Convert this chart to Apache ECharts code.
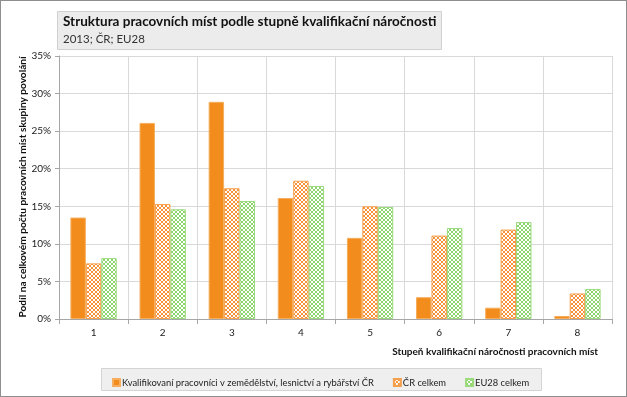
<!DOCTYPE html>
<html>
<head>
<meta charset="utf-8">
<script src="https://cdn.jsdelivr.net/npm/echarts@6/dist/echarts.min.js"></script>
<style>
  html, body { margin: 0; padding: 0; background: #fff; }
  #main { width: 627px; height: 397px; box-sizing: border-box; border: 1px solid #8e8e8e; }
</style>
</head>
<body>
<div id="main"></div>
<script>
// data
var categories = ['1', '2', '3', '4', '5', '6', '7', '8'];
var agriValues = [13.5, 26.1, 28.9, 16.1, 10.8, 2.9, 1.5, 0.4];
var czValues   = [7.4, 15.3, 17.4, 18.4, 15.0, 11.1, 11.9, 3.4];
var euValues   = [8.1, 14.6, 15.7, 17.7, 14.9, 12.1, 12.9, 4.0];
var seriesNames = ['Kvalifikovaní pracovníci v zemědělství, lesnictví a rybářství ČR', 'ČR celkem', 'EU28 celkem'];
var yTitle = 'Podíl na celkovém počtu pracovních míst skupiny povolání';

var FONT = 'Lato, "Open Sans", sans-serif';

// small checker pattern like the excel fill
function checker(color) {
  var c = document.createElement('canvas');
  c.width = 4; c.height = 4;
  var ctx = c.getContext('2d');
  ctx.fillStyle = '#ffffff';
  ctx.fillRect(0, 0, 4, 4);
  ctx.fillStyle = color;
  ctx.fillRect(0, 0, 2, 2);
  ctx.fillRect(2, 2, 2, 2);
  return c;
}

// font size so that text gets the wanted length (reference uses a narrow font)
function fitSize(text, weight, want) {
  var ctx = document.createElement('canvas').getContext('2d');
  ctx.font = weight + ' 10px ' + FONT;
  return 10 * want / ctx.measureText(text).width;
}
var yTitleSize = fitSize(yTitle, 'bold', 262);
var legendSize = fitSize(seriesNames[0], 'normal', 252);

var myChart = echarts.init(document.getElementById('main'));

var option = {
  animation: false,
  textStyle: { fontFamily: FONT },
  graphic: [
    {
      type: 'rect', left: 56, top: 10,
      shape: { width: 384, height: 38 },
      style: { fill: '#ececec', stroke: '#d0d0d0', lineWidth: 1 }
    },
    {
      type: 'text', left: 62, top: 14,
      style: { text: 'Struktura pracovních míst podle stupně kvalifikační náročnosti', font: 'bold 13.5px ' + FONT, fill: '#111' }
    },
    {
      type: 'text', left: 62, top: 32,
      style: { text: '2013; ČR; EU28', font: '11.5px ' + FONT, fill: '#333' }
    },
    {
      type: 'text', right: 28, top: 346,
      style: { text: 'Stupeň kvalifikační náročnosti pracovních míst', font: 'bold 10px ' + FONT, fill: '#111' }
    },
    {
      // rotated y axis title, one line
      type: 'text', x: 22, y: 186, rotation: Math.PI / 2,
      style: { text: yTitle, font: 'bold ' + yTitleSize.toFixed(2) + 'px ' + FONT, fill: '#111', align: 'center', verticalAlign: 'middle' }
    },
    {
      type: 'rect', left: 100, top: 367,
      shape: { width: 440, height: 22 },
      style: { fill: '#efefef', stroke: '#d4d4d4', lineWidth: 1 }
    }
  ],
  legend: {
    data: seriesNames,
    left: 106, top: 372,
    itemWidth: 7, itemHeight: 7,
    itemGap: 19,
    icon: 'rect',
    textStyle: { fontSize: legendSize, color: '#222', fontFamily: FONT, padding: [0, 0, 0, -3] }
  },
  grid: { left: 58, right: 14, top: 55, bottom: 77 },
  xAxis: {
    type: 'category',
    data: categories,
    axisLine: { lineStyle: { color: '#a6a6a6' } },
    axisTick: { show: true, length: 5, lineStyle: { color: '#a6a6a6' } },
    axisLabel: { color: '#222', fontSize: 10, margin: 9 },
    splitLine: { show: true, lineStyle: { color: '#d9d9d9' } }
  },
  yAxis: {
    type: 'value',
    min: 0, max: 35, interval: 5,
    axisLine: { show: true, lineStyle: { color: '#a6a6a6' } },
    axisTick: { show: true, length: 4, lineStyle: { color: '#a6a6a6' } },
    axisLabel: { formatter: '{value}%', color: '#222', fontSize: 10, margin: 8 },
    splitLine: { lineStyle: { color: '#d9d9d9' } }
  },
  series: [
    {
      name: seriesNames[0], type: 'bar', data: agriValues,
      barGap: '0%', barCategoryGap: '33%',
      itemStyle: { color: '#F28C1C', borderColor: '#F6AE5E', borderWidth: 1 }
    },
    {
      name: seriesNames[1], type: 'bar', data: czValues,
      itemStyle: { color: { image: checker('#F5923A'), repeat: 'repeat' }, borderColor: '#F5A04E', borderWidth: 1 }
    },
    {
      name: seriesNames[2], type: 'bar', data: euValues,
      itemStyle: { color: { image: checker('#8ED56E'), repeat: 'repeat' }, borderColor: '#9ADA7C', borderWidth: 1 }
    }
  ]
};

myChart.setOption(option);
</script>
</body>
</html>
